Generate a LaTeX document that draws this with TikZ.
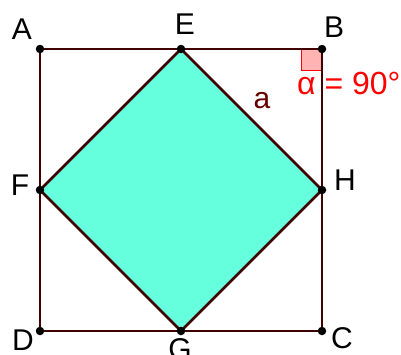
\documentclass[tikz,border=0pt]{standalone}
\usepackage{fontspec}
\setmainfont{Liberation Sans}
\definecolor{edge}{HTML}{3F0000}
\definecolor{fillc}{HTML}{66FFDD}
\definecolor{angfill}{HTML}{FFB3B3}
\definecolor{lbl}{HTML}{660000}
\begin{document}
\begin{tikzpicture}[x=1pt,y=-1pt,
  pt/.style={circle,fill=black,inner sep=0pt,minimum size=8.5pt},
  lab/.style={font=\fontsize{30}{30}\selectfont,inner sep=0pt},
  seg/.style={draw=edge,line width=2.6pt}]
\useasboundingbox (0,0) rectangle (401,354);
\coordinate (A) at (40,49);
\coordinate (B) at (322,49);
\coordinate (C) at (322,331);
\coordinate (D) at (40,331);
\coordinate (E) at (181,49);
\coordinate (F) at (40,190);
\coordinate (G) at (181,331);
\coordinate (H) at (322,190);
\fill[fillc] (E) -- (H) -- (G) -- (F) -- cycle;
\filldraw[fill=angfill,draw=red,line width=0.8pt] (B) rectangle (301,70);
\draw[seg,line cap=round] (A) -- (B) -- (C) -- (D) -- cycle;
\draw[seg,line join=round] (E) -- (H) -- (G) -- (F) -- cycle;
\foreach \p in {A,B,C,D,E,F,G,H} \node[pt] at (\p) {};
\node[lab] at (22,29) {A};
\node[lab] at (334,27) {B};
\node[lab] at (342,338) {C};
\node[lab] at (23,340) {D};
\node[lab] at (185,24) {E};
\node[lab] at (20,185) {F};
\node[lab] at (345,180) {H};
\node[lab] at (180,349) {G};
\node[lab,text=lbl] at (262,101) {a};
\node[lab,text=red,anchor=west,font=\fontsize{32}{32}\selectfont] at (297,83) {α = 90°};
\end{tikzpicture}
\end{document}
